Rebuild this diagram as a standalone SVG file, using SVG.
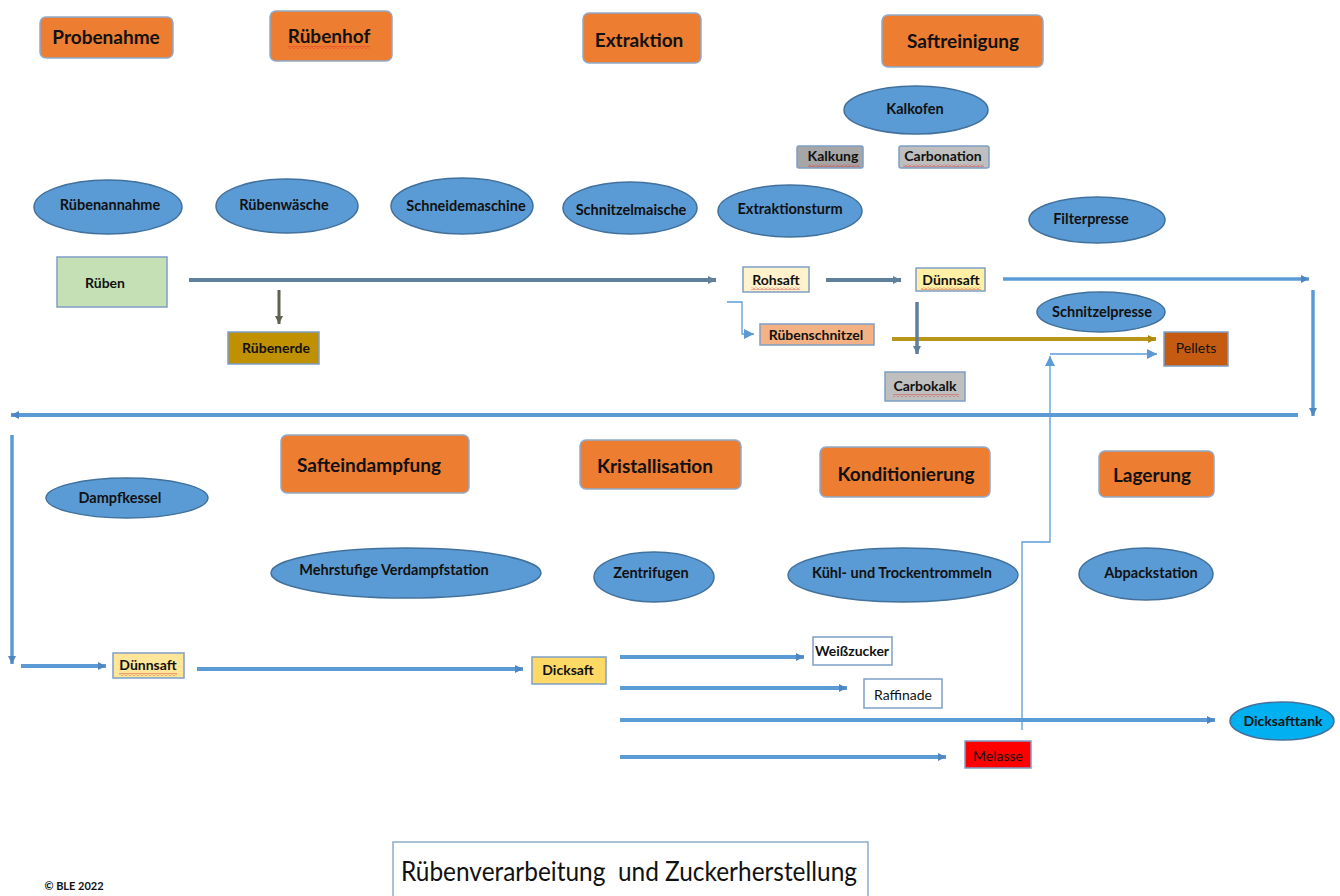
<svg xmlns="http://www.w3.org/2000/svg" width="1340" height="896" viewBox="0 0 1340 896">
<defs>
<style>
.hdr{fill:#ED7D31;stroke:#8FAACC;stroke-width:1.5}
.ell{fill:#5B9BD5;stroke:#41719C;stroke-width:1.5}
.box{stroke:#7E9FC6;stroke-width:1.5}
text{font-family:Lato,"Liberation Sans",sans-serif;fill:#111;text-anchor:middle}
.h{font-size:19px;font-weight:bold}
.e{font-size:14.5px;font-weight:bold}
.b{font-size:14px;font-weight:bold}
.n{font-size:14px;font-weight:normal}
.blue{stroke:#5B9BD5;fill:none}
.steel{stroke:#5F7F9B;fill:none}
.thin{stroke:#5B9BD5;stroke-width:1.3;fill:none}
</style>
<marker id="aBlue" markerUnits="userSpaceOnUse" markerWidth="10" markerHeight="10" refX="8" refY="5" orient="auto"><path d="M0,1 L8,5 L0,9 Z" fill="#4F86C0"/></marker>
<marker id="aSteel" markerUnits="userSpaceOnUse" markerWidth="10" markerHeight="10" refX="8" refY="5" orient="auto"><path d="M0,1 L8,5 L0,9 Z" fill="#5F7F9B"/></marker>
<marker id="aOlive" markerUnits="userSpaceOnUse" markerWidth="10" markerHeight="10" refX="8" refY="5" orient="auto"><path d="M0,1 L8,5 L0,9 Z" fill="#B08A10"/></marker>
<marker id="aDark" markerUnits="userSpaceOnUse" markerWidth="10" markerHeight="10" refX="8" refY="5" orient="auto"><path d="M0,1 L8,5 L0,9 Z" fill="#5D6350"/></marker>
<marker id="aThin" markerUnits="userSpaceOnUse" markerWidth="12" markerHeight="12" refX="10" refY="6" orient="auto"><path d="M0,1 L10,6 L0,11 Z" fill="#5B9BD5"/></marker>
<pattern id="squig" width="4" height="3" patternUnits="userSpaceOnUse"><path d="M0,2.5 L2,0.5 L4,2.5" stroke="#E03030" stroke-width="0.8" fill="none"/></pattern>
</defs>
<rect width="1340" height="896" fill="#FFFFFF"/>

<g id="connectors">
<path class="steel" stroke-width="4" d="M189,280 H716" marker-end="url(#aSteel)"/>
<path stroke="#5D6350" stroke-width="3" fill="none" d="M279,290 V324" marker-end="url(#aDark)"/>
<path class="steel" stroke-width="4" d="M826,280 H901" marker-end="url(#aSteel)"/>
<path class="blue" stroke-width="3.5" d="M1003,279 H1309" marker-end="url(#aBlue)"/>
<path class="blue" stroke-width="3.5" d="M1313,290 V416" marker-end="url(#aBlue)"/>
<path class="blue" stroke-width="4" d="M1298,415 H11" marker-end="url(#aBlue)"/>
<path class="blue" stroke-width="3.5" d="M12,435 V664" marker-end="url(#aBlue)"/>
<path class="blue" stroke-width="4" d="M21,666 H106" marker-end="url(#aBlue)"/>
<path class="blue" stroke-width="4" d="M197,669 H523" marker-end="url(#aBlue)"/>
<path class="thin" d="M727,302 H742 V334 H754" marker-end="url(#aThin)"/>
<path stroke="#B8961A" stroke-width="4" fill="none" d="M892,339 H1156" marker-end="url(#aOlive)"/>
<path class="steel" stroke-width="3.5" d="M917,302 V354" marker-end="url(#aSteel)"/>
<path class="blue" stroke-width="4" d="M620,657 H804" marker-end="url(#aBlue)"/>
<path class="blue" stroke-width="4" d="M620,688 H847" marker-end="url(#aBlue)"/>
<path class="blue" stroke-width="4" d="M620,720 H1215" marker-end="url(#aBlue)"/>
<path class="blue" stroke-width="4" d="M620,757 H946" marker-end="url(#aBlue)"/>
<path class="thin" d="M1022,730 V542 H1050 V356" marker-end="url(#aThin)"/>
<path class="thin" d="M1050,354 H1157" marker-end="url(#aThin)"/>
</g>

<g id="probenahme"><rect class="hdr" x="40" y="17" width="133" height="41" rx="6"/><text class="h" x="106" y="44">Probenahme</text></g>
<g id="ruebenhof"><rect class="hdr" x="270" y="11" width="122" height="50" rx="6"/><text class="h" x="329" y="43">Rübenhof</text><rect x="288" y="46" width="82" height="3" fill="url(#squig)"/></g>
<g id="extraktion"><rect class="hdr" x="583" y="13" width="118" height="50" rx="6"/><text class="h" x="639" y="47">Extraktion</text></g>
<g id="saftreinigung"><rect class="hdr" x="882" y="15" width="161" height="52" rx="6"/><text class="h" x="963" y="48">Saftreinigung</text></g>
<g id="safteindampfung"><rect class="hdr" x="281" y="435" width="188" height="58" rx="6"/><text class="h" x="369" y="472">Safteindampfung</text></g>
<g id="kristallisation"><rect class="hdr" x="580" y="440" width="161" height="49" rx="6"/><text class="h" x="655" y="473">Kristallisation</text></g>
<g id="konditionierung"><rect class="hdr" x="820" y="447" width="170" height="50" rx="6"/><text class="h" x="906" y="481">Konditionierung</text></g>
<g id="lagerung"><rect class="hdr" x="1099" y="451" width="115" height="46" rx="6"/><text class="h" x="1152" y="482">Lagerung</text></g>

<g id="ruebenannahme"><ellipse class="ell" cx="108" cy="207" rx="74" ry="27"/><text class="e" x="110" y="210">Rübenannahme</text></g>
<g id="ruebenwaesche"><ellipse class="ell" cx="287" cy="206" rx="71" ry="27"/><text class="e" x="284" y="210">Rübenwäsche</text></g>
<g id="schneidemaschine"><ellipse class="ell" cx="462" cy="206" rx="71" ry="28"/><text class="e" x="466" y="211">Schneidemaschine</text></g>
<g id="schnitzelmaische"><ellipse class="ell" cx="630" cy="208" rx="67" ry="26"/><text class="e" x="631" y="215">Schnitzelmaische</text></g>
<g id="extraktionsturm"><ellipse class="ell" cx="790" cy="211" rx="72" ry="26"/><text class="e" x="790" y="214">Extraktionsturm</text></g>
<g id="kalkofen"><ellipse class="ell" cx="916" cy="110" rx="72" ry="24"/><text class="e" x="915" y="114">Kalkofen</text></g>
<g id="filterpresse"><ellipse class="ell" cx="1097" cy="220" rx="68" ry="23"/><text class="e" x="1091" y="224">Filterpresse</text></g>
<g id="schnitzelpresse"><ellipse class="ell" cx="1101" cy="312" rx="64" ry="20"/><text class="e" x="1102" y="317">Schnitzelpresse</text></g>
<g id="dampfkessel"><ellipse class="ell" cx="127" cy="498" rx="81" ry="20"/><text class="e" x="120" y="503">Dampfkessel</text></g>
<g id="verdampfstation"><ellipse class="ell" cx="406" cy="573" rx="135" ry="25"/><text class="e" x="394" y="575">Mehrstufige Verdampfstation</text></g>
<g id="zentrifugen"><ellipse class="ell" cx="654" cy="577" rx="60" ry="25"/><text class="e" x="651" y="578">Zentrifugen</text></g>
<g id="trommeln"><ellipse class="ell" cx="903" cy="575" rx="115" ry="27"/><text class="e" x="902" y="578">Kühl- und Trockentrommeln</text></g>
<g id="abpackstation"><ellipse class="ell" cx="1146" cy="574" rx="67" ry="26"/><text class="e" x="1151" y="578">Abpackstation</text></g>
<g id="dicksafttank"><ellipse cx="1282" cy="721" rx="52" ry="19" fill="#00B0F0" stroke="#41719C" stroke-width="1.5"/><text class="b" x="1283" y="726">Dicksafttank</text></g>

<g id="rueben"><rect class="box" x="57" y="257" width="110" height="50" fill="#C5E0B4"/><text class="b" x="105" y="288">Rüben</text></g>
<g id="ruebenerde"><rect class="box" x="228" y="332" width="91" height="32" fill="#BF9000"/><text class="b" x="276" y="353">Rübenerde</text></g>
<g id="rohsaft"><rect class="box" x="743" y="267" width="66" height="25" fill="#FFF2CC"/><text class="b" x="776" y="285">Rohsaft</text><rect x="751" y="287" width="49" height="3" fill="url(#squig)"/></g>
<g id="duennsaft1"><rect class="box" x="916" y="268" width="69" height="23" fill="#FFF0A6"/><text class="b" x="951" y="285">Dünnsaft</text><rect x="921" y="287" width="60" height="3" fill="url(#squig)"/></g>
<g id="ruebenschnitzel"><rect class="box" x="760" y="324" width="114" height="21" fill="#F4B183"/><text class="b" x="816" y="340">Rübenschnitzel</text></g>
<g id="kalkung"><rect class="box" x="797" y="146" width="66" height="22" fill="#A6A6A6" rx="2"/><text class="b" x="833" y="161">Kalkung</text><rect x="808" y="164" width="52" height="3" fill="url(#squig)"/></g>
<g id="carbonation"><rect class="box" x="899" y="146" width="90" height="22" fill="#BFBFBF" rx="2"/><text class="b" x="943" y="161">Carbonation</text><rect x="903" y="164" width="81" height="3" fill="url(#squig)"/></g>
<g id="carbokalk"><rect class="box" x="885" y="372" width="80" height="29" fill="#BFBFBF"/><text class="b" x="925" y="391">Carbokalk</text><rect x="893" y="394" width="66" height="3" fill="url(#squig)"/></g>
<g id="pellets"><rect class="box" x="1164" y="332" width="64" height="34" fill="#C55A11"/><text class="n" x="1196" y="353">Pellets</text></g>
<g id="duennsaft2"><rect class="box" x="113" y="653" width="71" height="25" fill="#FFE699"/><text class="b" x="148" y="670">Dünnsaft</text><rect x="119" y="673" width="58" height="3" fill="url(#squig)"/></g>
<g id="dicksaft"><rect class="box" x="532" y="657" width="74" height="27" fill="#FFD966"/><text class="b" x="568" y="675">Dicksaft</text></g>
<g id="weisszucker"><rect class="box" x="813" y="637" width="79" height="28" fill="#FFFFFF"/><text class="b" x="852" y="656">Weißzucker</text></g>
<g id="raffinade"><rect class="box" x="864" y="679" width="78" height="29" fill="#FFFFFF"/><text class="n" x="903" y="700">Raffinade</text></g>
<g id="melasse"><rect class="box" x="965" y="741" width="66" height="27" fill="#FF0000"/><text class="n" x="998" y="761">Melasse</text></g>

<g id="title"><rect x="393" y="842" width="475" height="60" fill="#FFFFFF" stroke="#8FAACC" stroke-width="1.5"/><text x="629" y="881" xml:space="preserve" textLength="456" lengthAdjust="spacingAndGlyphs" style="font-size:26px;font-weight:normal">Rübenverarbeitung  und Zuckerherstellung</text></g>
<g id="copyright"><text x="74" y="890" style="font-size:11px;font-weight:bold">© BLE 2022</text></g>
</svg>
